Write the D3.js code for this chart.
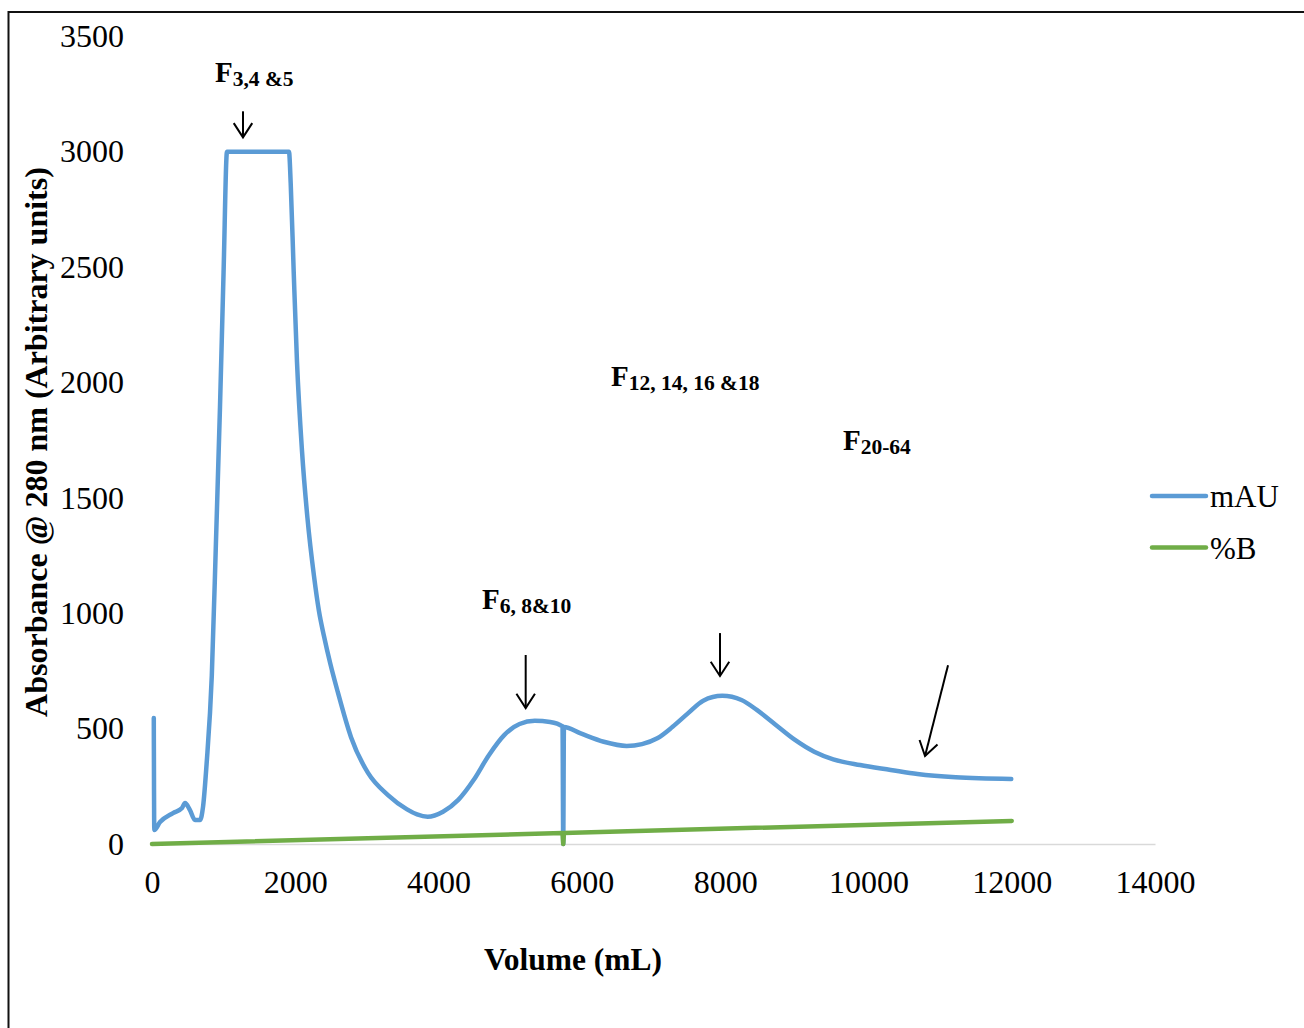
<!DOCTYPE html>
<html>
<head>
<meta charset="utf-8">
<script src="https://cdn.jsdelivr.net/npm/d3@7"></script>
<style>
  html, body { margin: 0; padding: 0; background: #fff; }
  svg { display: block; }
  text { font-family: "Liberation Serif", "Times New Roman", serif; fill: #000; }
</style>
</head>
<body>
<svg id="chart" width="1304" height="1028"></svg>
<script>
// Elution volume (mL) and UV absorbance (mAU) of the chromatogram
const volume = [25, 32, 112, 293, 419, 461, 530, 600, 670, 712,
  763, 835, 893, 949, 999, 1047, 1912, 1936, 1978, 2024,
  2094, 2170, 2261, 2330, 2401, 2490, 2592, 2778, 3015, 3294,
  3560, 3700, 3848, 4062, 4275, 4489, 4702, 4916, 5130, 5343,
  5557, 5730, 5740, 5750, 5984, 6305, 6626, 6839, 7053, 7267,
  7480, 7694, 7960, 8228, 8442, 8708, 8975, 9243, 9509, 9884,
  10311, 10685, 11219, 11994];
const mAU = [546, 61, 95, 134, 156, 178, 147, 104, 104, 160,
  351, 732, 1312, 1893, 2478, 3000, 3000, 2863, 2478, 2088,
  1702, 1412, 1161, 1010, 900, 780, 660, 463, 308, 212,
  150, 128, 118, 140, 191, 277, 385, 472, 520, 534,
  529, 510, 0, 507, 479, 443, 425, 433, 458, 508,
  566, 621, 642, 624, 581, 516, 451, 400, 367, 342,
  321, 303, 289, 282];

// Gradient (%B) over the same run
const bVolume = [0, 5730, 5740, 5750, 12000];
const bPercent = [0, 47.7, 0, 47.9, 100];

// Axis ticks
const xTicks = [0, 2000, 4000, 6000, 8000, 10000, 12000, 14000];
const yTicks = [0, 500, 1000, 1500, 2000, 2500, 3000, 3500];

// Fraction annotations: label anchor and arrow (in mL / mAU)
const fractionMain = ["F", "F", "F", "F"];
const fractionSub = ["3,4 &5", "6, 8&10", "12, 14, 16 &18", "20-64"];
const labelAt = [[879, 3300], [4606, 1020], [6407, 1985], [9645, 1708]];
const arrowFrom = [[1270, 3175], [5216, 819], [7928, 914], [11111, 775]];
const arrowTo = [[1270, 3062], [5216, 589], [7928, 728], [10790, 381]];

const seriesNames = ["mAU", "%B"];
const seriesColors = ["#5b9bd5", "#70ad47"];

const svg = d3.select("#chart");

const x = d3.scaleLinear().domain([0, 14000]).range([152, 1155]);
const y = d3.scaleLinear().domain([0, 3500]).range([844, 36.3]);

// Outer frame
svg.append("rect")
  .attr("x", 8.5).attr("y", 12).attr("width", 1310).attr("height", 1040)
  .attr("fill", "none").attr("stroke", "#111").attr("stroke-width", 2);

// X axis
const xAxis = svg.append("g")
  .attr("transform", `translate(0,${y(0)})`)
  .call(d3.axisBottom(x).tickValues(xTicks).tickFormat(d3.format("d")).tickSize(0).tickPadding(26.5));
xAxis.select(".domain").attr("stroke", "#d9d9d9").attr("stroke-width", 1.5);
xAxis.selectAll("text").attr("font-size", 32).style("font-family", "Liberation Serif, serif");

// Y axis (labels only)
const yAxis = svg.append("g")
  .attr("transform", `translate(${x(0)},0)`)
  .call(d3.axisLeft(y).tickValues(yTicks).tickFormat(d3.format("d")).tickSize(0).tickPadding(28));
yAxis.select(".domain").remove();
yAxis.selectAll("text").attr("font-size", 32).style("font-family", "Liberation Serif, serif");

// Axis titles
svg.append("text")
  .attr("x", 573).attr("y", 970)
  .attr("text-anchor", "middle")
  .attr("font-size", 31.5).attr("font-weight", "bold")
  .text("Volume (mL)");

svg.append("text")
  .attr("transform", "translate(47,442) rotate(-90)")
  .attr("text-anchor", "middle")
  .attr("font-size", 32).attr("font-weight", "bold")
  .text("Absorbance @ 280 nm (Arbitrary units)");

// Absorbance trace
const uv = volume.map((v, i) => [v, mAU[i]]);
svg.append("path")
  .datum(uv)
  .attr("fill", "none")
  .attr("stroke", seriesColors[0])
  .attr("stroke-width", 4.5)
  .attr("stroke-linejoin", "round")
  .attr("stroke-linecap", "round")
  .attr("d", d3.line().x(d => x(d[0])).y(d => y(d[1])).curve(d3.curveMonotoneX));

// Gradient trace
const grad = bVolume.map((v, i) => [v, bPercent[i]]);
svg.append("path")
  .datum(grad)
  .attr("fill", "none")
  .attr("stroke", seriesColors[1])
  .attr("stroke-width", 4.5)
  .attr("stroke-linejoin", "round")
  .attr("stroke-linecap", "round")
  .attr("d", d3.line().x(d => x(d[0])).y(d => y(d[1])));

// Fraction labels
fractionMain.forEach((m, i) => {
  const t = svg.append("text")
    .attr("x", x(labelAt[i][0])).attr("y", y(labelAt[i][1]))
    .attr("font-weight", "bold");
  t.append("tspan").attr("font-size", 29).text(m);
  t.append("tspan").attr("font-size", 21.5).attr("dy", 4).text(fractionSub[i]);
});

// Fraction arrows with open heads
const head = 17, spread = 33 * Math.PI / 180;
arrowFrom.forEach((a, i) => {
  const x1 = x(a[0]), y1 = y(a[1]);
  const x2 = x(arrowTo[i][0]), y2 = y(arrowTo[i][1]);
  const ang = Math.atan2(y2 - y1, x2 - x1);
  const g = svg.append("g").attr("stroke", "#000").attr("stroke-width", 2).attr("fill", "none");
  g.append("line").attr("x1", x1).attr("y1", y1).attr("x2", x2).attr("y2", y2);
  g.append("path").attr("d", d3.line()([
    [x2 - head * Math.cos(ang - spread), y2 - head * Math.sin(ang - spread)],
    [x2, y2],
    [x2 - head * Math.cos(ang + spread), y2 - head * Math.sin(ang + spread)]
  ]));
});

// Legend
const legend = svg.append("g").attr("transform", "translate(1152,496)");
seriesNames.forEach((name, i) => {
  const row = legend.append("g").attr("transform", `translate(0,${i * 51.5})`);
  row.append("line")
    .attr("x1", 0).attr("x2", 54).attr("y1", 0).attr("y2", 0)
    .attr("stroke", seriesColors[i]).attr("stroke-width", 4.5).attr("stroke-linecap", "round");
  row.append("text")
    .attr("x", 58).attr("y", 11)
    .attr("font-size", 31)
    .text(name);
});
</script>
</body>
</html>
